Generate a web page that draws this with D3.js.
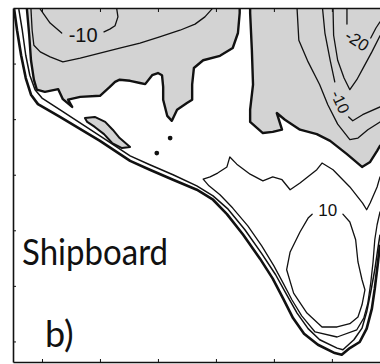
<!DOCTYPE html>
<html>
<head>
<meta charset="utf-8">
<script src="https://cdn.jsdelivr.net/npm/d3@7"></script>
<style>
  html, body { margin: 0; padding: 0; background: #fff; }
  svg { display: block; }
</style>
</head>
<body>
<svg id="chart" width="380" height="364"></svg>
<script>
// Section: distance along track (km) vs depth (m). Every contour is a list of [km, m] vertices.

// sea floor
const bottomLine = [[5.2,0.2],[5.7,4.0],[6.4,8.5],[7.2,12.6],[8.1,15.6],[9.3,17.3],[13.1,19.6],[20.0,23.9],[25.2,27.5],[28.6,29.1],[32.6,30.9],[36.7,32.7],[39.5,34.5],[41.9,37.1],[44.7,40.8],[47.6,45.1],[49.8,48.7],[51.6,52.3],[53.3,55.8],[55.2,58.6],[57.6,60.6],[60.5,62.1],[61.7,62.4],[63.1,61.2],[64.8,60.1],[66.0,57.7],[66.9,54.1],[67.4,50.5],[67.9,46.2],[68.3,42.6]];

// contour hugging the bottom
const nearBottom = [[6.0,0.2],[6.6,4.0],[7.2,8.5],[7.9,12.1],[8.8,14.7],[10.0,16.2],[13.4,18.5],[20.0,23.0],[25.2,26.6],[28.6,28.2],[32.6,30.0],[36.7,32.0],[39.5,33.8],[42.1,36.2],[45.0,39.9],[47.9,44.2],[50.3,48.0],[52.1,51.4],[54.0,54.9],[55.9,57.7],[57.9,59.7],[60.9,61.2],[61.9,61.5],[63.8,59.7],[65.2,57.6],[66.0,54.7],[66.7,51.1],[67.4,47.1],[67.9,43.5],[68.3,40.8]];

// zero contour: western negative region (runs from the surface round to the surface)
const zeroWest = [[44.1,0.2],[44.1,0.9],[43.8,4.5],[42.9,7.2],[40.7,8.6],[37.8,9.4],[36.2,10.8],[35.9,13.8],[35.9,16.5],[35.0,17.1],[33.3,18.3],[32.4,20.3],[31.6,19.4],[30.9,16.5],[30.9,14.2],[30.7,12.1],[30.0,11.7],[29.0,12.1],[27.8,13.7],[26.9,13.5],[25.2,13.1],[23.4,12.9],[22.6,13.3],[21.7,14.2],[20.0,15.8],[16.6,16.0],[14.5,16.5],[15.2,17.8],[13.6,16.4],[12.8,14.6],[10.5,15.1],[9.1,14.7],[8.6,12.9],[8.1,9.4],[7.8,4.9],[7.4,0.2]];

// zero contour: eastern negative region (surface to the section's east end)
const zeroEast = [[45.9,0.2],[45.9,0.9],[46.2,7.6],[46.4,13.8],[45.9,18.3],[45.9,20.5],[48.1,22.5],[49.8,22.3],[51.4,21.9],[50.5,18.9],[51.9,20.1],[54.5,21.9],[57.4,22.7],[59.7,23.9],[62.6,26.3],[65.2,28.6],[66.6,27.7],[67.8,25.7],[68.3,24.8]];

// small closed negative patch above the slope
const zeroPatch = [[17.4,19.8],[19.1,19.6],[20.9,20.5],[22.2,21.9],[23.4,23.4],[25.2,25.0],[23.8,25.2],[22.1,24.3],[20.7,22.7],[19.1,21.4],[17.8,20.5]];

// tiny closed cells
const eddyDist = [32.1, 29.8];
const eddyDepth = [23.4, 26.1];

// negative contours (segments split where a label sits)
const minus5West = [[[8.1,0.2],[8.3,4.0],[8.6,6.7],[9.7,7.9],[11.4,8.8],[13.6,9.7],[16.6,9.0],[20.0,8.1],[23.4,7.2],[26.9,6.3],[30.3,5.2],[33.8,4.0],[36.4,2.9],[38.1,1.6],[39.3,0.2]]];
const minus10West = [[[9.7,0.2],[11.4,2.7],[13.4,4.5]], [[20.7,4.3],[21.7,3.8],[22.6,3.2],[23.1,1.6],[22.9,0.2]]];
const minus5East = [[[54.0,0.2],[54.3,5.8],[55.9,9.7],[57.9,13.8],[59.3,17.4],[61.0,20.9],[63.1,23.7],[64.5,23.4],[66.2,21.9],[68.3,20.5]]];
const minus10East = [[[58.4,0.2],[58.8,4.5],[59.7,9.4],[60.5,13.3]], [[62.9,19.6],[63.6,20.3],[65.3,19.2],[68.3,17.8]]];
const minus15East = [[[60.2,0.2],[60.3,4.9],[61.0,9.4],[62.1,12.6],[63.1,14.7],[64.3,12.9],[65.5,10.6],[66.9,7.9],[68.3,5.0]]];
const minus20East = [[[62.6,0.2],[62.6,2.9]], [[66.7,5.4],[67.6,3.6],[68.3,2.5]]];

// positive contours
const plus5 = [[[68.3,30.4],[67.8,32.2],[66.6,35.1],[66.0,36.3],[65.3,35.1],[63.1,32.2],[60.2,29.1],[58.3,27.9],[57.4,29.1],[54.5,31.5],[52.8,32.7],[51.4,30.9],[49.8,30.4],[48.1,31.1],[45.9,29.9],[43.6,28.1],[42.4,26.8],[41.9,28.6],[40.3,29.7],[39.0,30.4],[37.8,30.8],[38.8,32.0],[40.7,33.6],[42.9,36.0],[45.5,39.2],[47.9,42.8],[50.0,46.4],[51.6,49.5],[53.1,52.5],[54.8,55.4],[57.1,58.3],[60.9,59.2],[64.3,57.9],[65.5,55.8],[66.2,53.1],[66.7,49.5],[67.1,45.7],[67.4,41.7],[67.8,39.0],[68.3,36.7]]];
const plus10 = [[[61.9,37.1],[63.1,38.5],[64.1,41.7],[64.5,45.7],[65.2,48.9],[65.7,50.7],[65.2,53.4],[64.5,55.6],[63.1,56.8],[60.9,57.4],[58.3,57.4],[55.7,54.9],[53.4,51.3],[52.2,47.1],[52.8,43.9],[54.5,40.3],[55.9,37.8],[56.6,37.1]]];

// contour labels
const labelText = ["-10", "-10", "-20", "10"];
const labelDist = [17.1, 61.4, 64.3, 59.3];
const labelDepth = [4.8, 16.9, 5.9, 36.5];

const distTicks = [10, 20, 30, 40, 50, 60];
const depthTicks = [10, 20, 30, 40, 50, 60];

// ---------------------------------------------------------------
const svg = d3.select("#chart");
const x = d3.scaleLinear().domain([5, 68.3]).range([13, 380]);
const y = d3.scaleLinear().domain([0, 63.7]).range([8, 362]);
const line = d3.line().x(d => x(d[0])).y(d => y(d[1]));

svg.append("defs").append("clipPath").attr("id", "plot")
  .append("rect")
  .attr("x", x.range()[0]).attr("y", y.range()[0])
  .attr("width", x.range()[1] - x.range()[0])
  .attr("height", y.range()[1] - y.range()[0]);

const plot = svg.append("g").attr("clip-path", "url(#plot)");
const shade = "#d3d3d3";

// negative regions
plot.append("path").attr("d", line(zeroWest) + "Z").attr("fill", shade);
const eastCorner = [x.domain()[1], y.domain()[0]];
plot.append("path").attr("d", line(zeroEast.concat([eastCorner])) + "Z").attr("fill", shade);
plot.append("path").attr("d", line(zeroPatch) + "Z").attr("fill", shade)
  .attr("stroke", "#111").attr("stroke-width", 2).attr("stroke-linejoin", "round");

// thin contours
const thin = [minus5West, minus10West, minus5East, minus10East, minus15East, minus20East, plus5, plus10];
thin.forEach(segs => segs.forEach(seg => {
  plot.append("path").attr("d", line(seg))
    .attr("fill", "none").attr("stroke", "#111").attr("stroke-width", 1.3)
    .attr("stroke-linejoin", "round").attr("stroke-linecap", "round");
}));

plot.append("path").attr("d", line(nearBottom))
  .attr("fill", "none").attr("stroke", "#111").attr("stroke-width", 1.5)
  .attr("stroke-linejoin", "round");

// zero contour outlines
[zeroWest, zeroEast].forEach(c => {
  plot.append("path").attr("d", line(c))
    .attr("fill", "none").attr("stroke", "#111").attr("stroke-width", 2.4)
    .attr("stroke-linejoin", "round").attr("stroke-linecap", "round");
});

// sea floor
plot.append("path").attr("d", line(bottomLine))
  .attr("fill", "none").attr("stroke", "#111").attr("stroke-width", 2.6)
  .attr("stroke-linejoin", "round");

// tiny cells
plot.selectAll("circle.eddy").data(eddyDist).enter().append("circle")
  .attr("class", "eddy")
  .attr("cx", d => x(d)).attr("cy", (d, i) => y(eddyDepth[i]))
  .attr("r", 2.4).attr("fill", "#111");

// contour labels
const labelAngle = [0, 65, 33, 0];
const labelSize = [20, 16, 17, 17];
labelText.forEach((t, i) => {
  const cx = x(labelDist[i]), cy = y(labelDepth[i]);
  svg.append("text")
    .attr("x", cx).attr("y", cy)
    .attr("transform", `rotate(${labelAngle[i]},${cx},${cy})`)
    .attr("text-anchor", "middle").attr("dominant-baseline", "central")
    .attr("font-family", "Liberation Sans, Arial, sans-serif")
    .attr("font-size", labelSize[i]).attr("fill", "#111")
    .text(t);
});

// frame and inward ticks
const styleAxis = g => {
  g.select(".domain").attr("stroke", "#111").attr("stroke-width", 1.6);
  g.selectAll(".tick line").attr("stroke", "#111").attr("stroke-width", 1);
};
svg.append("g").attr("transform", `translate(${x.range()[0]},0)`)
  .call(d3.axisRight(y).tickValues(depthTicks).tickSize(3).tickSizeOuter(0).tickFormat(""))
  .call(styleAxis);
svg.append("g").attr("transform", `translate(0,${y.range()[1]})`)
  .call(d3.axisTop(x).tickValues(distTicks).tickSize(3).tickSizeOuter(0).tickFormat(""))
  .call(styleAxis);
svg.append("g").attr("transform", `translate(0,${y.range()[0]})`)
  .call(d3.axisBottom(x).tickValues(distTicks).tickSize(4).tickSizeOuter(0).tickFormat(""))
  .call(styleAxis);

// panel captions
svg.append("text").attr("x", 22).attr("y", 265)
  .attr("font-family", "Lato, 'Open Sans', sans-serif").attr("font-size", 36)
  .attr("textLength", 146).attr("lengthAdjust", "spacingAndGlyphs")
  .attr("fill", "#111").text("Shipboard");
svg.append("text").attr("x", 45).attr("y", 347)
  .attr("font-family", "Lato, 'Open Sans', sans-serif").attr("font-size", 36)
  .attr("fill", "#111").text("b)");
</script>
</body>
</html>
